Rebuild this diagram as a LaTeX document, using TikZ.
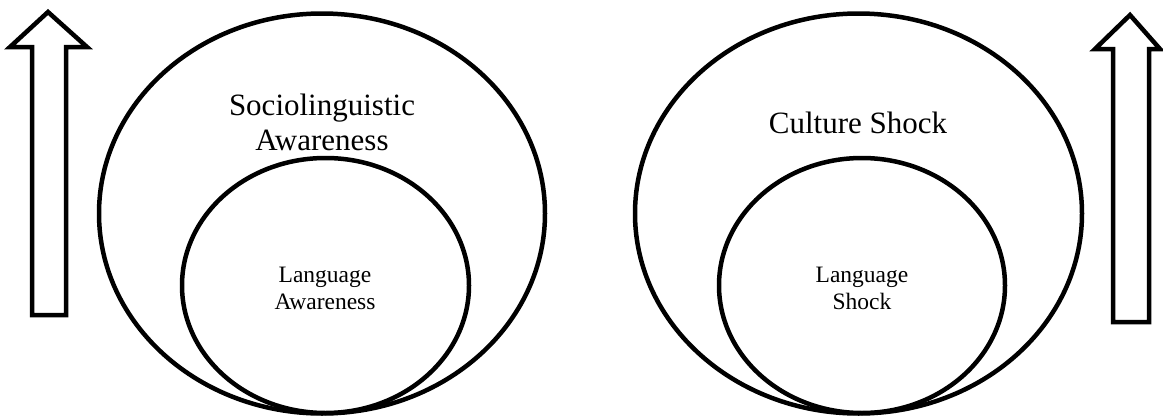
\documentclass[tikz,border=0pt]{standalone}
\usepackage{fontspec}
\setmainfont{Liberation Serif}
\tikzset{
  outline/.style={draw=black, line width=4.5pt},
  bigtext/.style={font=\fontsize{31}{35}\selectfont, align=center, inner sep=0pt, anchor=base},
  smalltext/.style={font=\fontsize{23.5}{27}\selectfont, align=center, inner sep=0pt, anchor=base},
  uparrow/.style={draw=black, line width=4.5pt, line join=miter, fill=white}
}
\begin{document}
\begin{tikzpicture}[x=1pt, y=-1pt]
\useasboundingbox (0,0) rectangle (1163,418);
% left arrow
\draw[uparrow] (48,12) -- (87,47) -- (66,47) -- (66,315) -- (32,315) -- (32,47) -- (10,47) -- cycle;
% right arrow
\draw[uparrow] (1130,15) -- (1160,49) -- (1149,49) -- (1149,322) -- (1113,322) -- (1113,49) -- (1095,49) -- cycle;
% left ellipses
\draw[outline] (322,213.5) ellipse [x radius=223, y radius=200];
\draw[outline] (325.5,285.5) ellipse [x radius=143.5, y radius=127.5];
% right ellipses
\draw[outline] (858.5,213.5) ellipse [x radius=223.5, y radius=200];
\draw[outline] (862,285.5) ellipse [x radius=143, y radius=127.5];
% texts
\node[bigtext] (socio) at (322,150) {Sociolinguistic\\Awareness};
\node[smalltext] (langaw) at (325,309) {Language\\Awareness};
\node[bigtext] (culture) at (858,133) {Culture Shock};
\node[smalltext] (langsh) at (862,309) {Language\\Shock};
\end{tikzpicture}
\end{document}
